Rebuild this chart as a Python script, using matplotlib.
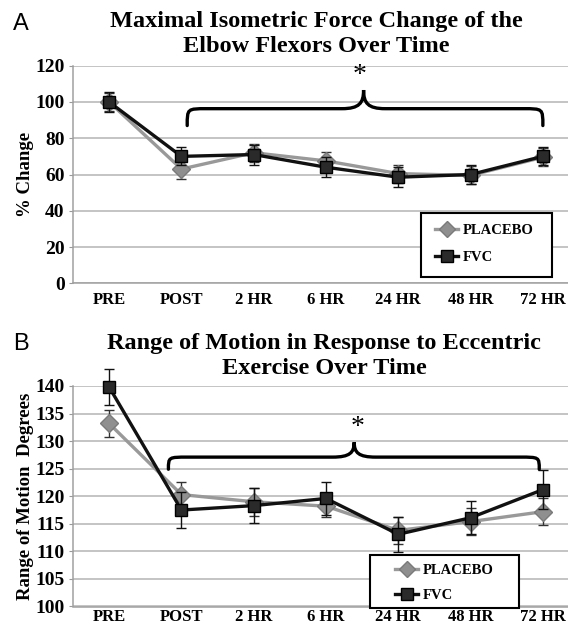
import matplotlib
matplotlib.use("Agg")
import matplotlib.pyplot as plt
from matplotlib.path import Path
from matplotlib.patches import PathPatch, Rectangle
from matplotlib.lines import Line2D

# 측정 시점
times = ["PRE", "POST", "2 HR", "6 HR", "24 HR", "48 HR", "72 HR"]

# A: 최대 등척성 근력 변화 (%)
force_placebo = [100, 63, 72, 67.5, 60.5, 59.5, 69.5]
force_placebo_err = [5, 5.5, 5, 5, 5, 5, 5]
force_fvc = [100, 70, 71, 64, 58.5, 60, 70]
force_fvc_err = [5.5, 5, 5.5, 5.5, 5.5, 5, 5]

# B: 관절 가동 범위 (도)
rom_placebo = [133.2, 120.3, 119.0, 118.2, 113.8, 115.4, 117.2]
rom_placebo_err = [2.5, 2.3, 2.5, 2.0, 2.5, 2.5, 2.4]
rom_fvc = [139.8, 117.5, 118.3, 119.6, 113.1, 116.1, 121.2]
rom_fvc_err = [3.3, 3.2, 3.2, 3.0, 3.2, 3.0, 3.5]

# 중괄호 (x0, x1, 끝 높이, 평평한 높이, 꼭지점 x, 꼭지점 높이)
brace_a = (1.08, 6.0, 87, 96.3, 3.52, 106.6)
brace_b = (0.82, 5.95, 124.9, 127.1, 3.39, 129.8)
star_a = (3.47, 114.5)
star_b = (3.44, 132.4)

SERIF = "Liberation Serif"
SANS = "Liberation Sans"
W, H = 568.0, 624.0

fig = plt.figure(figsize=(5.68, 6.24), dpi=100)


def draw_brace(ax, b, dx_end, dx_peak):
    x0, x1, ye, yf, xp, yp = b
    verts = [
        (x0, ye),
        (x0, yf), (x0, yf), (x0 + dx_end, yf),
        (xp - dx_peak, yf),
        (xp - dx_peak * 0.2, yf), (xp, yf + (yp - yf) * 0.3), (xp, yp),
        (xp, yf + (yp - yf) * 0.3), (xp + dx_peak * 0.2, yf), (xp + dx_peak, yf),
        (x1 - dx_end, yf),
        (x1, yf), (x1, yf), (x1, ye),
    ]
    codes = [Path.MOVETO,
             Path.CURVE4, Path.CURVE4, Path.CURVE4,
             Path.LINETO,
             Path.CURVE4, Path.CURVE4, Path.CURVE4,
             Path.CURVE4, Path.CURVE4, Path.CURVE4,
             Path.LINETO,
             Path.CURVE4, Path.CURVE4, Path.CURVE4]
    ax.add_patch(PathPatch(Path(verts, codes), fill=False, lw=2.4,
                           edgecolor="black", capstyle="round", zorder=5))


def panel(rect, placebo, placebo_err, fvc, fvc_err, ylim, yticks, ylabel,
          title_lines, title_x, title_y, letter, letter_y, brace, star,
          box, handle_x, entry_y, spacing, xpad):
    ax = fig.add_axes(rect)
    x = list(range(len(times)))

    ax.errorbar(x, placebo, yerr=placebo_err, color="#999999", lw=2.4,
                marker="D", markersize=9, markerfacecolor="#8f8f8f",
                markeredgecolor="#7a7a7a", ecolor="#333333", elinewidth=1,
                capsize=3.5, capthick=1, zorder=3, clip_on=False)
    ax.errorbar(x, fvc, yerr=fvc_err, color="#111111", lw=2.4,
                marker="s", markersize=9, markerfacecolor="#2a2a2a",
                markeredgecolor="black", ecolor="#111111", elinewidth=1,
                capsize=3.5, capthick=1, zorder=4, clip_on=False)

    ax.set_xlim(-0.5, 6.5)
    ax.set_ylim(*ylim)
    ax.set_yticks(yticks)
    ax.set_xticks(x)
    ax.set_xticklabels(times, fontfamily=SERIF, fontweight="bold", fontsize=12)
    ax.set_yticklabels([str(t) for t in yticks], fontfamily=SERIF,
                       fontweight="bold", fontsize=14)
    ax.tick_params(axis="x", length=0, pad=xpad)
    ax.tick_params(axis="y", length=3, color="#999999", pad=3)
    ax.yaxis.grid(True, color="#b4b4b4", lw=1.1)
    ax.set_axisbelow(True)
    for s in ["top", "right"]:
        ax.spines[s].set_visible(False)
    for s in ["left", "bottom"]:
        ax.spines[s].set_color("#a0a0a0")
        ax.spines[s].set_linewidth(1.1)

    ax.set_ylabel(ylabel, fontfamily=SERIF, fontweight="bold", fontsize=13.5,
                  labelpad=1)

    draw_brace(ax, brace, 0.27, 0.3)
    ax.text(star[0], star[1], "*", fontfamily=SERIF, fontsize=20,
            ha="center", va="center", zorder=6)

    for line, ty in zip(title_lines, title_y):
        fig.text(title_x / W, 1 - ty / H, line, fontfamily=SERIF,
                 fontweight="bold", fontsize=17.5, ha="center", va="center")
    fig.text(13 / W, 1 - letter_y / H, letter, fontfamily=SANS, fontsize=17,
             ha="left", va="center")

    # 범례 테두리
    bx0, by0, bx1, by1 = box
    fig.patches.append(Rectangle((bx0 / W, 1 - by1 / H), (bx1 - bx0) / W,
                                 (by1 - by0) / H, transform=fig.transFigure,
                                 facecolor="white", edgecolor="black",
                                 lw=1.5, zorder=9))
    handles = [
        Line2D([], [], color="#999999", lw=2.4, marker="D", markersize=8,
               markerfacecolor="#8f8f8f", markeredgecolor="#7a7a7a"),
        Line2D([], [], color="#111111", lw=2.4, marker="s", markersize=8,
               markerfacecolor="#2a2a2a", markeredgecolor="black"),
    ]
    leg = fig.legend(handles, ["PLACEBO", "FVC"], loc="center left",
                     bbox_to_anchor=(handle_x / W, 1 - entry_y / H),
                     handlelength=1.6, handletextpad=0.3,
                     labelspacing=spacing, borderpad=0, borderaxespad=0,
                     frameon=False,
                     prop={"family": SERIF, "weight": "bold", "size": 10.5})
    leg.set_zorder(10)
    return ax


# A 패널
panel([73 / W, (H - 283.3) / H, 506 / W, 217.6 / H],
      force_placebo, force_placebo_err, force_fvc, force_fvc_err,
      (0, 120), list(range(0, 121, 20)), "% Change",
      ["Maximal Isometric Force Change of the", "Elbow Flexors Over Time"],
      316, [22, 46], "A", 24, brace_a, star_a,
      (421, 213, 552, 277), 435, 244, 0.95, 6)

# B 패널
panel([73 / W, (H - 606.5) / H, 506 / W, 220.5 / H],
      rom_placebo, rom_placebo_err, rom_fvc, rom_fvc_err,
      (100, 140), list(range(100, 141, 5)), "Range of Motion  Degrees",
      ["Range of Motion in Response to Eccentric", "Exercise Over Time"],
      324, [344, 368], "B", 344, brace_b, star_b,
      (370, 555, 519, 608), 395, 583, 0.8, 2)

fig.savefig("out.png", dpi=100)
